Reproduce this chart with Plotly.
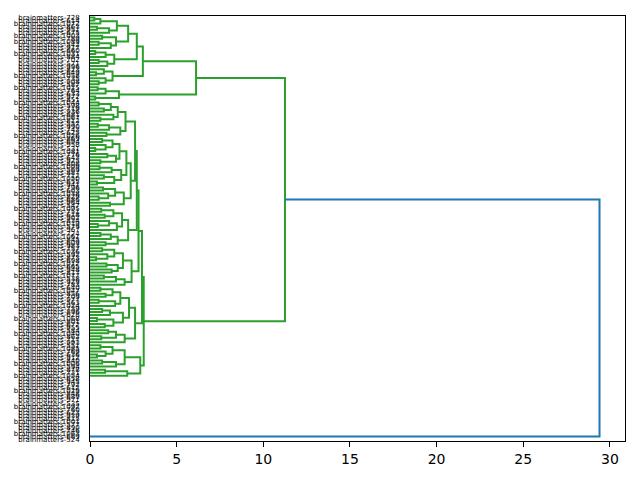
import plotly.graph_objects as go

# ---- leaf labels (top-to-bottom order as drawn) ----
leaf_numbers = [
    728, 614, 1072, 863, 951, 675, 1003, 789, 1089, 542,
    917, 660, 1031, 884, 702, 571, 996, 823, 649, 1058,
    735, 908, 587, 1015, 764, 633, 972, 851, 1044, 598,
    719, 936, 681, 1067, 812, 557, 990, 743, 625, 1026,
    869, 694, 958, 531, 1081, 776, 643, 925, 808, 1009,
    569, 887, 712, 1050, 655, 941, 796, 603, 1038, 829,
    686, 964, 547, 1095, 751, 618, 902, 834, 1019, 579,
    967, 724, 1061, 845, 609, 983, 757, 1036, 592, 873,
    698, 1012, 665, 948, 817, 1077, 538, 929, 783, 640,
    1047, 856, 709, 977, 563, 1024, 739, 896, 628, 1068,
    801, 672, 955, 584, 1040, 862, 717, 993, 551, 1085,
    769, 636, 912, 840, 1006, 594, 878, 731, 1054, 658,
    945, 792, 612, 1029, 848, 689, 971, 535, 1092, 760,
    623, 939, 815, 1001, 577, 890, 746, 1063, 669, 524,
]
leaf_labels = [f"brainmatters-{v}" for v in leaf_numbers]

# ---- merge tree: [height, upper child, lower child]; ints are leaf indices ----
T1 = [1.55, [0.6, [0.25, 0, 1], 2], [1.1, [0.4, 3, 4], 5]]
T2 = [1.5, [0.7, 6, 7], [1.2, [0.5, 8, 9], 10]]
U1a = [2.2, T1, T2]
U1b = [1.4, [0.9, [0.3, 11, 12], 13], [1.0, [0.5, 14, 15], 16]]
U1 = [2.7, U1a, U1b]
U2 = [1.3, [0.8, 17, [0.35, 18, 19]], [0.9, 20, [0.5, 21, 22]]]
A_top = [3.05, U1, U2]
A_bot = [1.67, [0.9, [0.44, 23, 24], 25], [0.3, 26, 27]]
A = [6.12, A_top, A_bot]

W1 = [2.05, [1.6, [1.2, [0.5, 28, 29], [0.8, 30, 31]], [1.35, 32, [0.6, 33, 34]]],
      [1.75, [1.1, [0.45, 35, 36], 37], [0.95, 38, 39]]]
W2 = [2.35, [2.1, [1.7, [1.3, [0.7, 40, 41], [0.9, 42, [0.3, 43, 44]]],
                  [1.5, [1.0, 45, 46], [0.6, 47, 48]]],
             [1.8, [1.25, [0.55, 49, 50], 51], [1.4, [0.8, 52, 53], [0.4, 54, 55]]]],
      [1.95, [1.45, [0.75, 56, 57], [1.05, 58, [0.5, 59, 60]]], [1.15, 61, 62]]]
X = [2.2, [1.85, [1.35, [0.65, 63, 64], [0.85, 65, 66]], [1.55, [1.1, 67, [0.45, 68, 69]], 70]],
     [1.6, [1.2, [0.6, 71, 72], 73], [0.9, 74, 75]]]
Y = [2.4, [1.9, [1.4, [0.7, 76, 77], [1.0, 78, [0.35, 79, 80]]], [1.6, [0.95, 81, 82], [1.25, 83, 84]]],
     [2.0, [1.5, [0.8, 85, 86], 87], 88]]
Z = [2.6, [2.25, [1.75, [1.3, [0.6, 89, 90], [0.9, 91, 92]], [1.45, [0.5, 93, 94], 95]],
           [1.9, [1.15, [0.7, 96, 97], 98], [1.35, [0.4, 99, 100], [0.85, 101, 102]]]],
     [2.0, [1.5, [1.05, 103, 104], [0.65, 105, 106]], 107]]
L1 = [2.6, W1, W2]
L2 = [2.7, L1, X]
L3 = [2.8, L2, Y]
L4 = [3.0, L3, Z]
B2a = [2.0, [1.3, [0.6, 108, 109], [0.9, 110, [0.4, 111, 112]]], [1.5, [0.7, 113, 114], 115]]
B2b = [2.15, [0.87, 116, 117], 118]
B2 = [2.9, B2a, B2b]
B = [3.1, L4, B2]
green_cluster = [11.25, A, B]

zero_chain_leaves = list(range(119, 140))
zero_chain = zero_chain_leaves[0]
for lf in zero_chain_leaves[1:]:
    zero_chain = [0.0, zero_chain, lf]

root_height = 29.4
tree = [root_height, green_cluster, zero_chain]
threshold = 0.7 * root_height

GREEN = "#2ca02c"
BLUE = "#1f77b4"

n = len(leaf_labels)


def leaf_pos(k):
    return 10 * n - 5 - 10 * k


segs = {GREEN: ([], []), BLUE: ([], [])}


def walk(node):
    if isinstance(node, int):
        return leaf_pos(node), 0.0
    h, a, b = node
    ya, ha = walk(a)
    yb, hb = walk(b)
    if h > 0:
        col = BLUE if h > threshold else GREEN
        xs, ys = segs[col]
        xs += [ha, h, h, hb, None]
        ys += [ya, ya, yb, yb, None]
    return (ya + yb) / 2, h


walk(tree)

fig = go.Figure()
for col in (GREEN, BLUE):
    xs, ys = segs[col]
    fig.add_trace(go.Scatter(x=xs, y=ys, mode="lines",
                             line=dict(color=col, width=2), hoverinfo="skip",
                             showlegend=False))

fig.update_layout(
    width=640, height=480,
    margin=dict(l=90, r=15, t=16, b=39),
    paper_bgcolor="white", plot_bgcolor="white",
    font=dict(family="DejaVu Sans", color="black"),
    xaxis=dict(range=[0, root_height * 1.05], tickmode="array",
               tickvals=[0, 5, 10, 15, 20, 25, 30],
               ticks="outside", ticklen=5, tickwidth=1, tickcolor="black",
               showline=True, linecolor="black", linewidth=1, mirror=True,
               showgrid=False, zeroline=False,
               tickfont=dict(size=14, family="DejaVu Sans", color="black")),
    yaxis=dict(range=[0, 10 * n], tickmode="array",
               tickvals=[leaf_pos(k) for k in range(n)], ticktext=leaf_labels,
               ticks="outside", ticklen=8, tickcolor="rgba(0,0,0,0)",
               showline=True, linecolor="black", linewidth=1, mirror=True,
               showgrid=False, zeroline=False,
               tickfont=dict(size=7, family="DejaVu Sans", color="black")),
)

fig.write_html("out.html")
